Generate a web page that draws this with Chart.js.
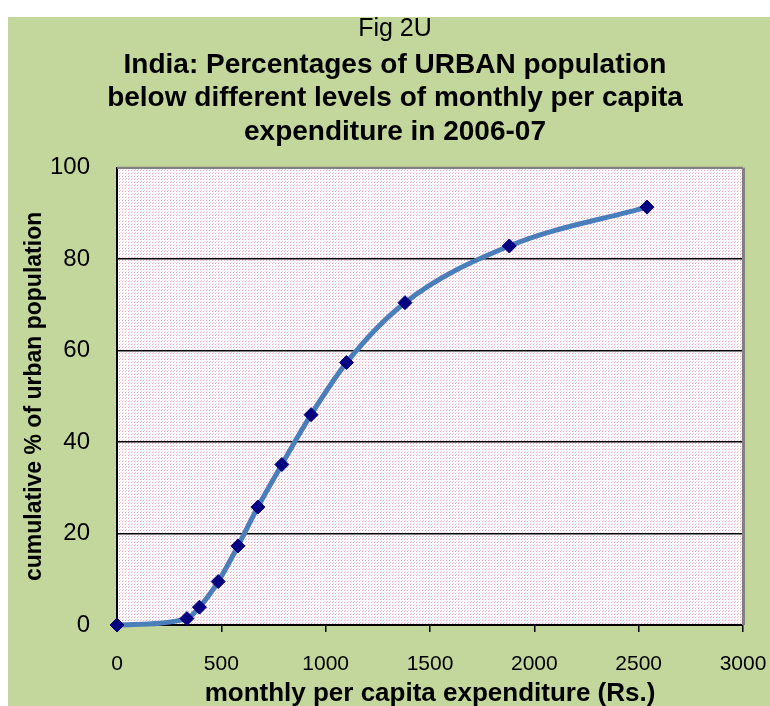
<!DOCTYPE html>
<html>
<head>
<meta charset="utf-8">
<script src="https://cdn.jsdelivr.net/npm/chart.js@4"></script>
<style>
    html, body { margin: 0; padding: 0; background: #ffffff; }
    #wrap { position: absolute; left: 8px; top: 17px; width: 762px; height: 689px; background: #c3d69b; }
</style>
</head>
<body>
<div id="wrap"><canvas id="chart" width="762" height="689"></canvas></div>
<script>
// Data
const expenditure = [0, 335, 395, 485, 580, 675, 790, 930, 1100, 1380, 1880, 2540];
const cumulativePct = [0, 1.4, 3.9, 9.5, 17.3, 25.8, 35.1, 46.0, 57.4, 70.5, 82.9, 91.4];
const xTicks = [0, 500, 1000, 1500, 2000, 2500, 3000];
const yTicks = [0, 20, 40, 60, 80, 100];

const titleText = 'Fig 2U';
const subtitleLines = [
    'India: Percentages of URBAN population',
    'below different levels of monthly per capita',
    'expenditure in 2006-07'
];

const FONT = '"Liberation Sans", Arial, sans-serif';
const NARROW = '"Liberation Sans Narrow", "Arial Narrow", "Liberation Sans", sans-serif';

// Pink dotted fill of the plot area
function makePattern(ctx) {
    const tile = document.createElement('canvas');
    tile.width = 3;
    tile.height = 3;
    const t = tile.getContext('2d');
    t.fillStyle = '#ffffff';
    t.fillRect(0, 0, 3, 3);
    t.fillStyle = '#f6a3c6';
    t.fillRect(0, 0, 1, 1);
    t.fillStyle = '#fbd3e4';
    t.fillRect(1, 2, 1, 1);
    return ctx.createPattern(tile, 'repeat');
}

const plotBackground = {
    id: 'plotBackground',
    beforeDraw(chart) {
        const { ctx, chartArea: a } = chart;
        ctx.save();
        ctx.fillStyle = makePattern(ctx);
        ctx.fillRect(a.left, a.top, a.right - a.left, a.bottom - a.top);
        ctx.restore();
    },
    afterDatasetsDraw(chart) {
        const { ctx, chartArea: a } = chart;
        ctx.save();
        ctx.strokeStyle = '#808080';
        ctx.lineWidth = 2;
        ctx.beginPath();
        ctx.moveTo(a.left, a.top);
        ctx.lineTo(a.right, a.top);
        ctx.stroke();
        ctx.lineWidth = 3;
        ctx.beginPath();
        ctx.moveTo(a.right + 0.5, a.top);
        ctx.lineTo(a.right + 0.5, a.bottom);
        ctx.stroke();
        ctx.restore();
    }
};

const ctx = document.getElementById('chart').getContext('2d');
new Chart(ctx, {
    type: 'line',
    data: {
        datasets: [{
            data: expenditure.map((x, i) => ({ x: x, y: cumulativePct[i] })),
            borderColor: '#4a7ebb',
            borderWidth: 5,
            cubicInterpolationMode: 'monotone',
            pointStyle: 'rectRot',
            pointRadius: 7,
            pointBackgroundColor: '#000080',
            pointBorderColor: '#000080',
            pointBorderWidth: 1,
            fill: false,
            clip: false
        }]
    },
    options: {
        responsive: false,
        animation: false,
        layout: { padding: { left: 12, right: 0, top: 0, bottom: 0 } },
        plugins: {
            legend: { display: false },
            tooltip: { enabled: false },
            title: {
                display: true,
                text: titleText,
                color: '#000',
                font: { family: NARROW, size: 25, weight: 'normal', lineHeight: 1 },
                padding: { top: 0, bottom: 0 }
            },
            subtitle: {
                display: true,
                text: subtitleLines,
                color: '#000',
                font: { family: FONT, size: 28, weight: 'bold', lineHeight: 1.2 },
                padding: { top: 6, bottom: 19 }
            }
        },
        scales: {
            x: {
                type: 'linear',
                min: 0,
                max: 3000,
                afterBuildTicks: s => { s.ticks = xTicks.map(v => ({ value: v })); },
                afterFit: s => { s.height = 81; s.paddingRight = 27; },
                grid: { drawOnChartArea: false, drawTicks: true, tickLength: 7, color: '#000', lineWidth: 1.5 },
                border: { color: '#000', width: 2 },
                ticks: {
                    color: '#000',
                    font: { family: FONT, size: 21 },
                    padding: 20,
                    maxRotation: 0,
                    callback: v => String(v)
                },
                title: {
                    display: true,
                    text: 'monthly per capita expenditure (Rs.)',
                    color: '#000',
                    font: { family: FONT, size: 26, weight: 'bold', lineHeight: 1 },
                    padding: { top: 0, bottom: -1 }
                }
            },
            y: {
                min: 0,
                max: 100,
                afterBuildTicks: s => { s.ticks = yTicks.map(v => ({ value: v })); },
                afterFit: s => { s.width = 97; },
                grid: { color: '#000', lineWidth: 1.5, drawTicks: false },
                border: { color: '#000', width: 2 },
                ticks: { color: '#000', font: { family: FONT, size: 24 }, padding: 27 },
                title: {
                    display: true,
                    text: 'cumulative % of urban population',
                    color: '#000',
                    font: { family: FONT, size: 23, weight: 'bold', lineHeight: 1.2 },
                    padding: { top: 1, bottom: 0 }
                }
            }
        }
    },
    plugins: [plotBackground]
});
</script>
</body>
</html>
